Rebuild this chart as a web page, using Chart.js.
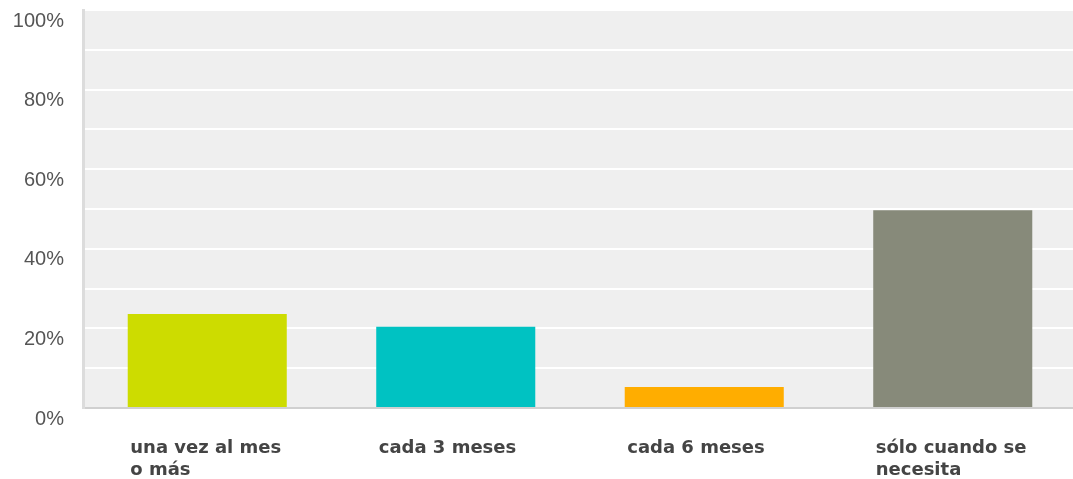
<!DOCTYPE html>
<html>
<head>
<meta charset="utf-8">
<script src="https://cdn.jsdelivr.net/npm/chart.js@4/dist/chart.umd.min.js"></script>
<style>
  body { margin: 0; background: #fff; overflow: hidden; }
  #wrap { width: 1077px; height: 479px; position: relative; }
</style>
</head>
<body>
<div id="wrap"><canvas id="freq-chart"></canvas></div>
<script>
const categories = [['una vez al mes', 'o más'], 'cada 3 meses', 'cada 6 meses', ['sólo cuando se', 'necesita']]
const percentages = [23.6, 20.4, 5.3, 49.7]
const barColors = ['#cddc00', '#00c2c2', '#ffad00', '#878a7a']

// light grey plot panel behind the white gridlines
const plotBackground = {
  id: 'plotBackground',
  beforeDraw(chart) {
    const { ctx, chartArea } = chart
    ctx.save()
    ctx.fillStyle = '#efefef'
    ctx.fillRect(chartArea.left, chartArea.top - 1, chartArea.right - chartArea.left, chartArea.bottom - chartArea.top + 1)
    ctx.restore()
  }
}

const freqChartCanvas = document.getElementById('freq-chart')
let freqChartData = {
  type: 'bar',
  data: {
    labels: categories,
    datasets: [{
      data: percentages,
      backgroundColor: barColors,
      barPercentage: 0.64,
      categoryPercentage: 1
    }]
  },
  options: {
    responsive: true,
    maintainAspectRatio: false,
    animation: false,
    layout: { padding: { top: 10, right: 0, left: 0, bottom: 0 } },
    scales: {
      x: {
        grid: { display: false, drawTicks: false },
        border: { display: true, color: '#d0d0d0', width: 2 },
        ticks: {
          align: 'start',
          labelOffset: -77,
          padding: 29,
          color: '#444',
          font: { family: 'DejaVu Sans, sans-serif', size: 18, weight: 'bold', lineHeight: 1.22 },
          maxRotation: 0,
          autoSkip: false
        },
        afterFit(scale) {
          scale.height = 71
          scale.paddingLeft = 0
          scale.paddingRight = 0
        }
      },
      y: {
        min: 0,
        max: 100,
        grid: { color: '#ffffff', lineWidth: 2, drawTicks: false },
        border: { display: true, color: '#dcdcdc', width: 3 },
        ticks: {
          stepSize: 10,
          padding: 19,
          labelOffset: 11,
          color: '#555',
          font: { family: 'Liberation Sans, Arial, sans-serif', size: 20 },
          callback: (v) => v % 20 === 0 ? v + '%' : ''
        },
        afterFit(scale) {
          scale.width = 83
          scale.paddingTop = 0
          scale.paddingBottom = 0
        }
      }
    },
    plugins: {
      legend: { display: false },
      tooltip: { enabled: false }
    }
  },
  plugins: [plotBackground]
}
let freqChart = new Chart(freqChartCanvas, freqChartData)
</script>
</body>
</html>
